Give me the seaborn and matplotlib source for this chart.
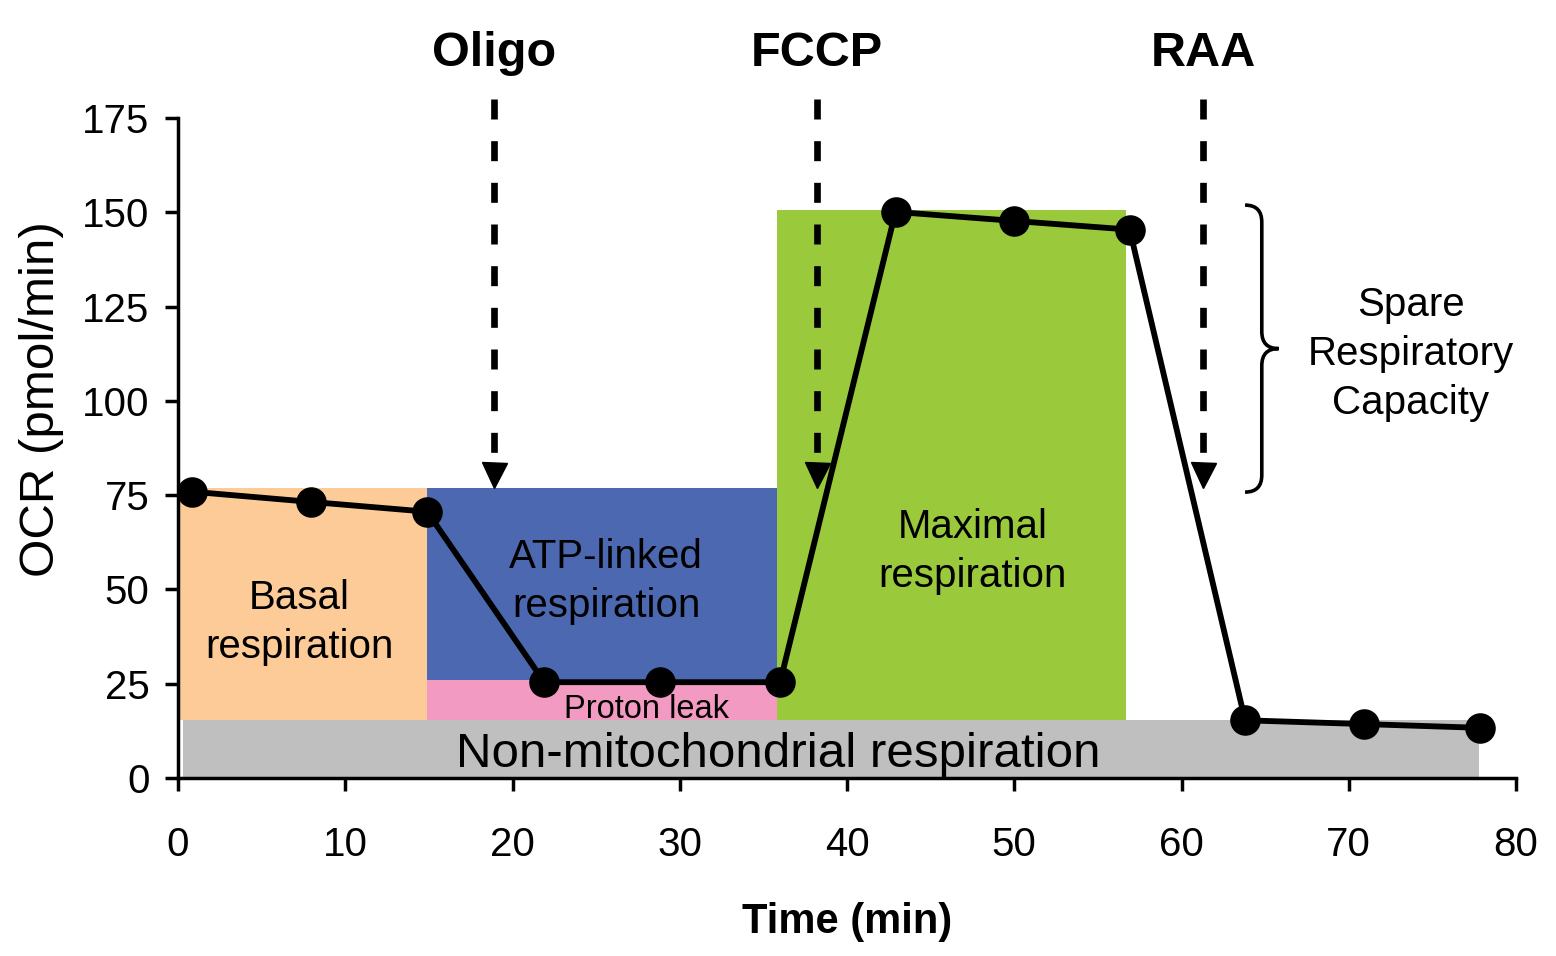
import numpy as np
import matplotlib
matplotlib.use('Agg')
import matplotlib.pyplot as plt
from matplotlib.path import Path
from matplotlib.patches import PathPatch
import seaborn as sns

# measured OCR trace
time_min = [0.85, 7.95, 14.9, 21.9, 28.8, 36.0, 42.9, 50.0, 56.9, 63.8, 70.9, 77.85]
ocr = [75.9, 73.2, 70.6, 25.4, 25.4, 25.4, 150.1, 147.7, 145.4, 15.3, 14.3, 13.3]

# shaded regions
region_label = ['Non-mitochondrial', 'Basal', 'ATP-linked', 'Proton leak', 'Maximal']
region_start = [0.3, 0.1, 14.9, 14.9, 35.8]
region_end = [77.8, 14.9, 35.8, 35.8, 56.7]
region_bottom = [0.0, 15.4, 25.9, 15.4, 15.4]
region_top = [15.4, 76.9, 76.9, 25.9, 150.6]
region_color = ['#BFBFBF', '#FDCB98', '#4C68B0', '#F39AC2', '#9ACA3C']

# injections
inj_time = [18.9, 38.2, 61.3]
inj_label = ['Oligo', 'FCCP', 'RAA']

sns.set_style('ticks')
plt.rcParams['font.family'] = ['Liberation Sans', 'DejaVu Sans']
plt.rcParams['text.color'] = 'black'
plt.rcParams['axes.labelcolor'] = 'black'
plt.rcParams['xtick.color'] = 'black'
plt.rcParams['ytick.color'] = 'black'

fig = plt.figure(figsize=(15.56, 9.56), dpi=100)
ax = fig.add_axes([0.1144, 0.1862, 0.8599, 0.6904])

starts = np.array(region_start)
ends = np.array(region_end)
bottoms = np.array(region_bottom)
tops = np.array(region_top)
ax.bar(starts, tops - bottoms, width=ends - starts, bottom=bottoms,
       align='edge', color=region_color, linewidth=0, zorder=1)

sns.lineplot(x=time_min, y=ocr, ax=ax, color='black', linewidth=4.2,
             marker='o', markersize=22, markeredgecolor='black',
             markeredgewidth=0, zorder=5, clip_on=False)

# region labels
ls = 1.36
ax.text(7.25, 41.3, 'Basal\nrespiration', ha='center', va='center', fontsize=29, linespacing=ls)
ax.text(25.6, 52.2, 'ATP-linked\nrespiration', ha='center', va='center', fontsize=29, linespacing=ls)
ax.text(47.5, 60.1, 'Maximal\nrespiration', ha='center', va='center', fontsize=29, linespacing=ls)
ax.text(28.0, 18.2, 'Proton leak', ha='center', va='center', fontsize=23.5)
ax.text(35.9, 6.1, 'Non-mitochondrial respiration', ha='center', va='center', fontsize=35.5)

# injection arrows
for t, lab in zip(inj_time, inj_label):
    ax.plot([t, t], [180, 84], color='black', linewidth=4.8,
            linestyle=(0, (3, 3.25)), clip_on=False, zorder=6)
    ax.plot([t], [80.3], marker='v', markersize=18, color='black',
            clip_on=False, zorder=6)
    ax.text(t, 192, lab, ha='center', va='center', fontsize=35,
            fontweight='bold')

# brace for spare respiratory capacity
ytop = max(region_top) + 1.3
ybot = region_top[1] - 1.1
ymid = (ytop + ybot) / 2
x0, xm, xt = 63.8, 64.8, 65.8
d = 4.5
verts = [(x0, ytop), (xm, ytop), (xm, ytop - d),
         (xm, ymid + d), (xm, ymid), (xt, ymid),
         (xm, ymid), (xm, ymid - d),
         (xm, ybot + d), (xm, ybot), (x0, ybot)]
codes = [Path.MOVETO, Path.CURVE3, Path.CURVE3,
         Path.LINETO, Path.CURVE3, Path.CURVE3,
         Path.CURVE3, Path.CURVE3,
         Path.LINETO, Path.CURVE3, Path.CURVE3]
ax.add_patch(PathPatch(Path(verts, codes), facecolor='none',
                       edgecolor='black', linewidth=2.6, clip_on=False))
ax.text(73.7, 112.4, 'Spare\nRespiratory\nCapacity', ha='center', va='center',
        fontsize=29, linespacing=ls)

ax.set_xlim(0, 80)
ax.set_ylim(0, 175)
ax.set_xticks(np.arange(0, 81, 10))
ax.set_yticks(np.arange(0, 176, 25))
ax.tick_params(axis='both', direction='out', length=9.5, width=2.5,
               labelsize=29, color='black', labelcolor='black')
ax.tick_params(axis='x', pad=25)
ax.tick_params(axis='y', pad=11)
for s in ['left', 'bottom']:
    ax.spines[s].set_linewidth(2.5)
    ax.spines[s].set_color('black')
    ax.spines[s].set_zorder(7)
sns.despine(ax=ax)

ax.set_xlabel('Time (min)', fontsize=30, fontweight='bold')
ax.set_ylabel('OCR (pmol/min)', fontsize=35.5)
ax.xaxis.set_label_coords(0.5, -0.188)
ax.yaxis.set_label_coords(-0.085, 0.574)

fig.savefig('out.png', dpi=100)
